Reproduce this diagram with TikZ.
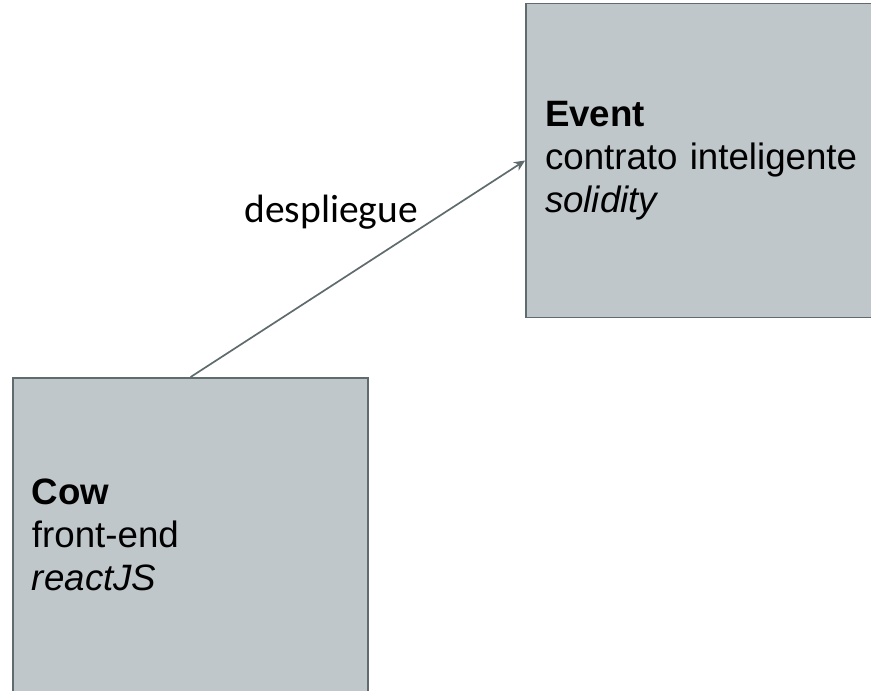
\documentclass[tikz,border=0pt]{standalone}
\usepackage{fontspec}
\setmainfont{Liberation Sans}
\newfontfamily\labelfont{Carlito}
\usetikzlibrary{arrows.meta, positioning}
\definecolor{boxfill}{HTML}{BFC7CA}
\definecolor{boxline}{HTML}{5F6B6D}
\tikzstyle{module} = [rectangle, draw=boxline, fill=boxfill, line width=1.8bp, minimum width=355bp, minimum height=314bp, text width=317bp, inner sep=19bp, align=left, font=\fontsize{36.7bp}{43bp}\selectfont]
\tikzstyle{arrow} = [line width=1.7bp, ->, >={Stealth[length=11bp, width=10bp]}, boxline]
\tikzstyle{edgelabel} = [inner sep=1bp, text=black, font=\labelfont\fontsize{39.5bp}{44bp}\selectfont]
\begin{document}
\begin{tikzpicture}[x=1bp, y=-1bp]
    \useasboundingbox (0,0) rectangle (871,691);

    % Two modules
    \node (event) [module] at (703.5,160.5) {\textbf{Event}\\contrato inteligente\\\textit{solidity}};
    \node (cow) [module] at (190.5,535) {\textbf{Cow}\\front-end\\\textit{reactJS}};

    % Deployment arrow
    \draw [arrow] (cow.north) -- (event.west) node[edgelabel, pos=0.685, anchor=south east, yshift=-2bp] {despliegue};

\end{tikzpicture}
\end{document}
